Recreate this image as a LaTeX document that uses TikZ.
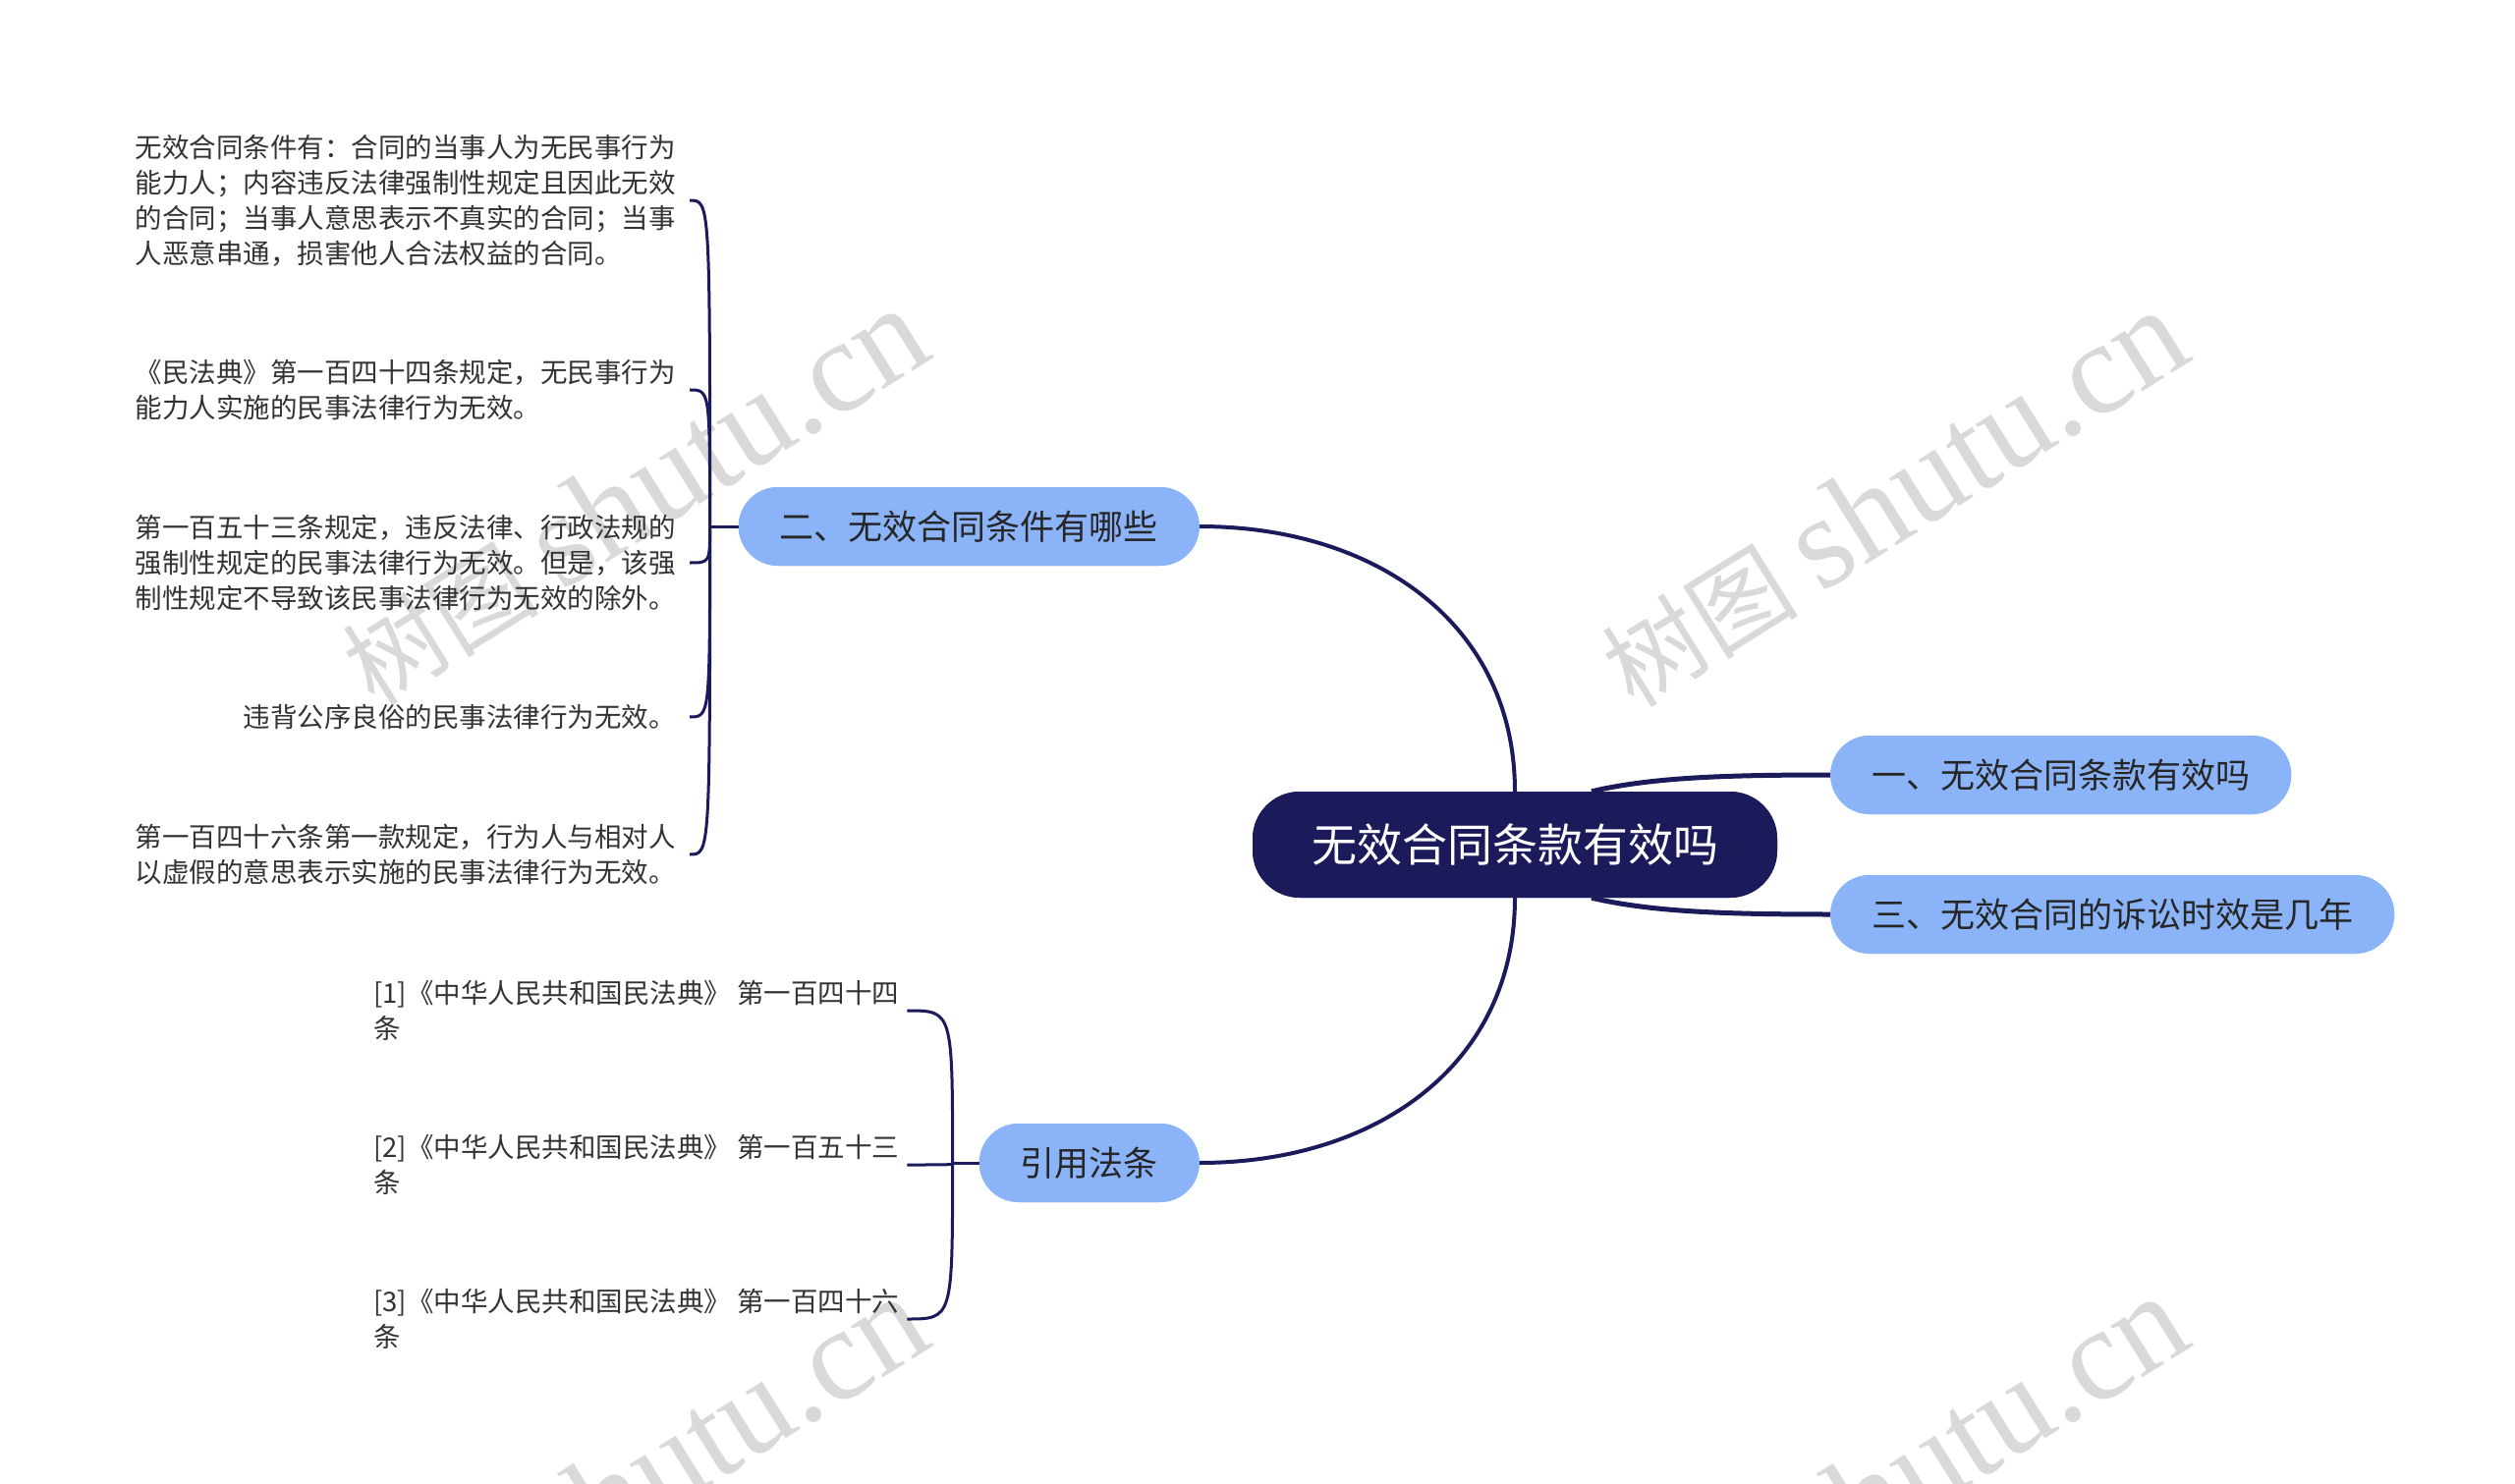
\documentclass[tikz,border=0pt]{standalone}
\usepackage{fontspec}
\setmainfont{Noto Sans CJK SC}
\newfontfamily\wmserif{Liberation Serif}
\usetikzlibrary{calc}
\definecolor{navy}{HTML}{1B1A5B}
\definecolor{pill}{HTML}{8BB4F8}
\definecolor{wm}{HTML}{D9D9D9}
\definecolor{leaftext}{HTML}{333333}
\definecolor{maintext}{HTML}{262626}
\newcommand{\wmtext}{{\fontsize{100}{100}\selectfont 树图}\hspace{24pt}{\wmserif\fontsize{134}{134}\selectfont shutu.cn}}
\tikzset{
  rootnode/.style={fill=navy, text=white, rounded corners=48pt, minimum height=108pt, inner xsep=60pt, font=\fontsize{46}{46}\selectfont},
  mainnode/.style={fill=pill, text=maintext, rounded corners=40pt, minimum height=80pt, inner xsep=42pt, font=\fontsize{35}{35}\selectfont},
  leafnode/.style={text=leaftext, align=left, inner xsep=14pt, inner ysep=4pt, font=\fontsize{27.5}{36}\selectfont},
  link/.style={draw=navy, line width=4pt},
  sidelink/.style={draw=navy, line width=5pt},
  bracketline/.style={draw=navy, line width=3pt},
  wmark/.style={text=wm, rotate=32, inner sep=0pt}
}
\begin{document}
\begin{tikzpicture}[x=1pt,y=-1pt]
\useasboundingbox (0,0) rectangle (2560,1511);
\clip (0,0) rectangle (2560,1511);
\fill[white] (0,0) rectangle (2560,1511);

% watermarks
\node[wmark] (wm1) at (645,506) {\wmtext};
\node[wmark] (wm2) at (1927,508) {\wmtext};
\node[wmark] (wm3) at (645,1512) {\wmtext};
\node[wmark] (wm4) at (1927,1512) {\wmtext};

% nodes
\node[rootnode] (c) at (1542,860) {无效合同条款有效吗};
\node[mainnode, anchor=west] (n1) at (1863,789) {一、无效合同条款有效吗};
\node[mainnode, anchor=west] (n3) at (1863,931) {三、无效合同的诉讼时效是几年};
\node[mainnode, anchor=east] (n2) at (1221,536) {二、无效合同条件有哪些};
\node[mainnode, anchor=east] (cite) at (1221,1184) {引用法条};

% leaves of n2
\node[leafnode, anchor=east] (la) at (702,204) {无效合同条件有：合同的当事人为无民事行为\\能力人；内容违反法律强制性规定且因此无效\\的合同；当事人意思表示不真实的合同；当事\\人恶意串通，损害他人合法权益的合同。};
\node[leafnode, anchor=east] (lb) at (702,397) {《民法典》第一百四十四条规定，无民事行为\\能力人实施的民事法律行为无效。};
\node[leafnode, anchor=east] (lc) at (702,573) {第一百五十三条规定，违反法律、行政法规的\\强制性规定的民事法律行为无效。但是，该强\\制性规定不导致该民事法律行为无效的除外。};
\node[leafnode, anchor=east] (ld) at (702,730) {违背公序良俗的民事法律行为无效。};
\node[leafnode, anchor=east] (le) at (702,870) {第一百四十六条第一款规定，行为人与相对人\\以虚假的意思表示实施的民事法律行为无效。};

% leaves of cite
\node[leafnode, anchor=west, inner xsep=8pt] (r1) at (372,1029) {[1]《中华人民共和国民法典》 第一百四十四\\条};
\node[leafnode, anchor=west, inner xsep=8pt] (r2) at (372,1186) {[2]《中华人民共和国民法典》 第一百五十三\\条};
\node[leafnode, anchor=west, inner xsep=8pt] (r3) at (372,1343) {[3]《中华人民共和国民法典》 第一百四十六\\条};

% junctions
\coordinate (j1) at ($(n2.west)+(-29,0)$);
\coordinate (j2) at ($(cite.west)+(-27,0)$);
\coordinate (c1) at ($(c.north)+(78,0)$);
\coordinate (c3) at ($(c.south)+(78,0)$);

% main links
\path[link] (n2.east) .. controls +(180,0) and +(0,-170) .. (c.north);
\path[link] (cite.east) .. controls +(180,0) and +(0,170) .. (c.south);
\path[sidelink] (c1) .. controls +(60,-14) and +(-110,0) .. (n1.west);
\path[sidelink] (c3) .. controls +(60,14) and +(-110,0) .. (n3.west);

% brackets n2
\path[bracketline] (n2.west) -- (j1);
\foreach \l in {la,lb,lc,ld,le}{
  \path[bracketline] (j1) .. controls (j1|-\l.east) and (j1|-\l.east) .. (\l.east);
}
% brackets cite
\path[bracketline] (cite.west) -- (j2);
\foreach \l in {r1,r2,r3}{
  \path[bracketline] (j2) .. controls (j2|-\l.east) and (j2|-\l.east) .. (\l.east);
}

% redraw root and main nodes on top of links
\node[rootnode] at (c) {无效合同条款有效吗};
\node[mainnode] at (n1) {一、无效合同条款有效吗};
\node[mainnode] at (n3) {三、无效合同的诉讼时效是几年};
\node[mainnode] at (n2) {二、无效合同条件有哪些};
\node[mainnode] at (cite) {引用法条};
\end{tikzpicture}
\end{document}
